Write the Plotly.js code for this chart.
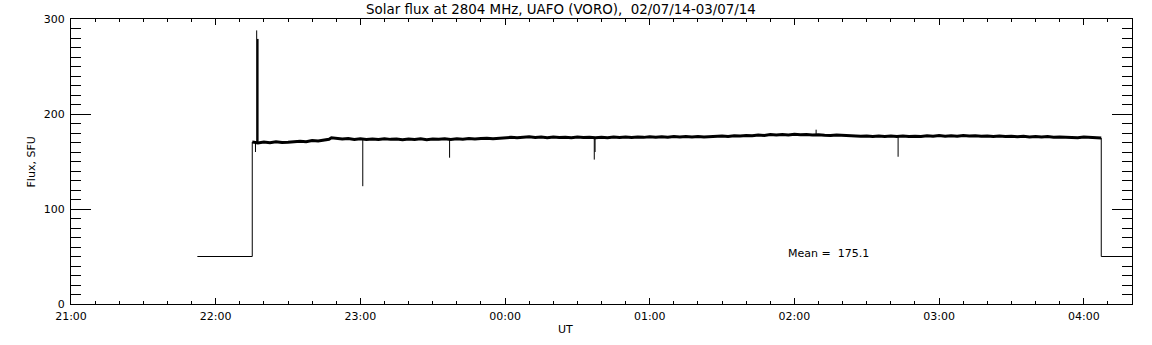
<!DOCTYPE html>
<html>
<head>
<meta charset="utf-8">
<script src="https://cdn.plot.ly/plotly-3.0.1.min.js"></script>
<style>
  html, body { margin: 0; padding: 0; background: #ffffff; }
  #chart { width: 1152px; height: 345px; }
</style>
</head>
<body>
<div id="chart"></div>
<script>
// ---- data ----
var D1 = '2014-07-02 ';
var D2 = '2014-07-03 ';

// main flux band (SFU)
var fluxTimes = [
  D1+'22:15:10', D1+'22:17:30', D1+'22:20', D1+'22:22:30', D1+'22:25', D1+'22:27:30', D1+'22:30', D1+'22:32:30',
  D1+'22:35', D1+'22:37:30', D1+'22:40', D1+'22:42:30', D1+'22:45', D1+'22:47', D1+'22:48', D1+'22:50',
  D1+'22:52:30', D1+'22:55', D1+'22:57:30', D1+'23:00', D1+'23:02:30', D1+'23:05', D1+'23:07:30', D1+'23:10',
  D1+'23:12:30', D1+'23:15', D1+'23:17:30', D1+'23:20', D1+'23:22:30', D1+'23:25', D1+'23:27:30', D1+'23:30',
  D1+'23:32:30', D1+'23:35', D1+'23:37:30', D1+'23:40', D1+'23:42:30', D1+'23:45', D1+'23:47:30', D1+'23:50',
  D1+'23:52:30', D1+'23:55', D1+'23:57:30',
  D2+'00:00', D2+'00:02:30', D2+'00:05', D2+'00:07:30', D2+'00:10', D2+'00:12:30', D2+'00:15', D2+'00:17:30',
  D2+'00:20', D2+'00:22:30', D2+'00:25', D2+'00:27:30', D2+'00:30', D2+'00:32:30', D2+'00:35', D2+'00:37:30',
  D2+'00:40', D2+'00:42:30', D2+'00:45', D2+'00:47:30', D2+'00:50', D2+'00:52:30', D2+'00:55', D2+'00:57:30',
  D2+'01:00', D2+'01:02:30', D2+'01:05', D2+'01:07:30', D2+'01:10', D2+'01:12:30', D2+'01:15', D2+'01:17:30',
  D2+'01:20', D2+'01:22:30', D2+'01:25', D2+'01:27:30', D2+'01:30', D2+'01:32:30', D2+'01:35', D2+'01:37:30',
  D2+'01:40', D2+'01:42:30', D2+'01:45', D2+'01:47:30', D2+'01:50', D2+'01:52:30', D2+'01:55', D2+'01:57:30',
  D2+'02:00', D2+'02:02:30', D2+'02:05', D2+'02:07:30', D2+'02:10', D2+'02:12:30', D2+'02:15', D2+'02:17:30',
  D2+'02:20', D2+'02:22:30', D2+'02:25', D2+'02:27:30', D2+'02:30', D2+'02:32:30', D2+'02:35', D2+'02:37:30',
  D2+'02:40', D2+'02:42:30', D2+'02:45', D2+'02:47:30', D2+'02:50', D2+'02:52:30', D2+'02:55', D2+'02:57:30',
  D2+'03:00', D2+'03:02:30', D2+'03:05', D2+'03:07:30', D2+'03:10', D2+'03:12:30', D2+'03:15', D2+'03:17:30',
  D2+'03:20', D2+'03:22:30', D2+'03:25', D2+'03:27:30', D2+'03:30', D2+'03:32:30', D2+'03:35', D2+'03:37:30',
  D2+'03:40', D2+'03:42:30', D2+'03:45', D2+'03:47:30', D2+'03:50', D2+'03:52:30', D2+'03:55', D2+'03:57:30',
  D2+'04:00', D2+'04:02:30', D2+'04:05', D2+'04:07:15'
];
var fluxValues = [
  170.5, 169.6, 170.4, 169.8, 170.8, 169.9, 170.2, 171.0,
  171.3, 170.9, 172.1, 171.6, 172.2, 173.4, 175.0, 174.3,
  173.6, 174.1, 173.3, 173.9, 173.2, 173.8, 173.1, 173.9,
  173.3, 173.6, 172.9, 173.7, 173.2, 173.9, 173.0, 173.8,
  173.4, 174.0, 173.3, 173.9, 173.4, 174.2, 173.6, 174.1,
  174.5, 174.0, 174.7,
  174.8, 175.4, 175.0, 175.7, 176.0, 175.3, 175.8, 175.1,
  175.9, 175.3, 175.6, 175.0, 175.7, 175.2, 175.6, 175.0,
  175.6, 175.1, 175.8, 175.2, 175.9, 175.3, 175.8, 175.4,
  176.0, 175.5, 176.1, 175.6, 176.2, 175.7, 176.3, 175.8,
  176.4, 175.9, 176.2, 176.6, 176.9, 176.4, 177.1, 176.8,
  177.4, 177.0, 177.9, 177.4, 178.3, 177.8, 178.4, 178.0,
  178.6, 178.1, 178.5, 177.9, 178.2, 177.6, 177.3, 177.9,
  177.5, 176.9, 177.2, 176.6, 176.9, 176.3, 176.8, 176.4,
  176.9, 176.2, 176.8, 176.3, 176.7, 176.2, 177.0, 176.6,
  177.3, 176.7, 177.1, 176.6, 177.4, 176.8, 177.0, 176.5,
  176.9, 176.3, 176.8, 176.2, 176.6, 176.1, 176.5, 175.9,
  176.3, 175.8, 176.2, 175.6, 175.9, 175.4, 175.6, 175.1,
  175.8, 175.3, 175.5, 174.8
];

// off-sun / calibration level and the steps into and out of the observation
var stepTimes  = [D1+'21:52:24', D1+'22:15:10', D1+'22:15:10', null, D2+'04:07:15', D2+'04:07:15', D2+'04:20'];
var stepValues = [50, 50, 170.5, null, 174.8, 50, 50];

// short spikes and dips on top of the band
var spikeTimes  = [D1+'22:16:30', D1+'22:17:00', D1+'22:17:20', D1+'22:17:35', D1+'23:01', D1+'23:37', D2+'00:37', D2+'00:37:20', D2+'02:09', D2+'02:43'];
var spikeBase   = [170.3, 170.3, 170.3, 170.3, 173.8, 173.3, 175.1, 175.1, 178.1, 176.4];
var spikeEnd    = [160, 288, 279, 279, 124, 154, 152, 160, 183.5, 155];

var meanValue = 175.1;
var titleText = 'Solar flux at 2804 MHz, UAFO (VORO),\u00a0\u00a002/07/14-03/07/14';

// build vertical segments for spikes (null-separated)
var spX = [], spY = [];
for (var i = 0; i < spikeTimes.length; i++) {
  spX.push(spikeTimes[i], spikeTimes[i], null);
  spY.push(spikeBase[i], spikeEnd[i], null);
}

var FONT = 'DejaVu Sans, Liberation Sans, sans-serif';

var traces = [
  { x: stepTimes, y: stepValues, type: 'scatter', mode: 'lines', connectgaps: false,
    line: { color: '#000000', width: 1 }, hoverinfo: 'skip' },
  { x: spX, y: spY, type: 'scatter', mode: 'lines', connectgaps: false,
    line: { color: '#000000', width: 1 }, hoverinfo: 'skip' },
  { x: fluxTimes, y: fluxValues, type: 'scatter', mode: 'lines',
    line: { color: '#000000', width: 3 }, hoverinfo: 'skip' }
];

var layout = {
  width: 1152, height: 345,
  margin: { l: 71, r: 20, t: 19, b: 41, pad: 0 },
  paper_bgcolor: '#ffffff', plot_bgcolor: '#ffffff',
  showlegend: false,
  font: { family: FONT, size: 11, color: '#000000' },
  title: {
    text: titleText,
    font: { family: FONT, size: 13.4, color: '#000000' },
    xref: 'paper', x: 0.4618, xanchor: 'center',
    yref: 'container', y: 0.974, yanchor: 'middle'
  },
  xaxis: {
    type: 'date',
    range: [D1+'21:00', D2+'04:20'],
    tickmode: 'linear', tick0: D1+'21:00', dtick: 3600000,
    tickformat: '%H:%M',
    ticks: 'inside', ticklen: 6, tickwidth: 1, tickcolor: '#000000',
    minor: { ticks: 'inside', ticklen: 3, tickwidth: 1, tickcolor: '#000000', dtick: 600000, tick0: D1+'21:00', showgrid: false },
    showline: true, linecolor: '#000000', linewidth: 1, mirror: 'allticks',
    showgrid: false, zeroline: false,
    tickfont: { family: FONT, size: 11, color: '#000000' },
    ticklabelstandoff: 2
  },
  yaxis: {
    range: [0, 300],
    tickmode: 'linear', tick0: 0, dtick: 100,
    ticks: 'inside', ticklen: 20, tickwidth: 1, tickcolor: '#000000',
    minor: { ticks: 'inside', ticklen: 10, tickwidth: 1, tickcolor: '#000000', dtick: 10, tick0: 0, showgrid: false },
    showline: true, linecolor: '#000000', linewidth: 1, mirror: 'allticks',
    showgrid: false, zeroline: false,
    tickfont: { family: FONT, size: 11, color: '#000000' },
    ticklabelstandoff: 3
  },
  annotations: [
    { text: 'Mean =\u00a0\u00a0' + meanValue.toFixed(1), xref: 'paper', yref: 'paper',
      x: 0.674, y: 0.178, xanchor: 'left', yanchor: 'middle', showarrow: false,
      font: { family: FONT, size: 11, color: '#000000' } },
    { text: 'UT', xref: 'paper', yref: 'paper',
      x: 0.4665, y: -0.091, xanchor: 'center', yanchor: 'middle', showarrow: false,
      font: { family: FONT, size: 11, color: '#000000' } },
    { text: 'Flux, SFU', xref: 'paper', yref: 'paper', textangle: -90,
      x: -0.0368, y: 0.5, xanchor: 'center', yanchor: 'middle', showarrow: false,
      font: { family: FONT, size: 11, color: '#000000' } }
  ]
};

Plotly.newPlot('chart', traces, layout, { staticPlot: true, displayModeBar: false });
</script>
</body>
</html>
